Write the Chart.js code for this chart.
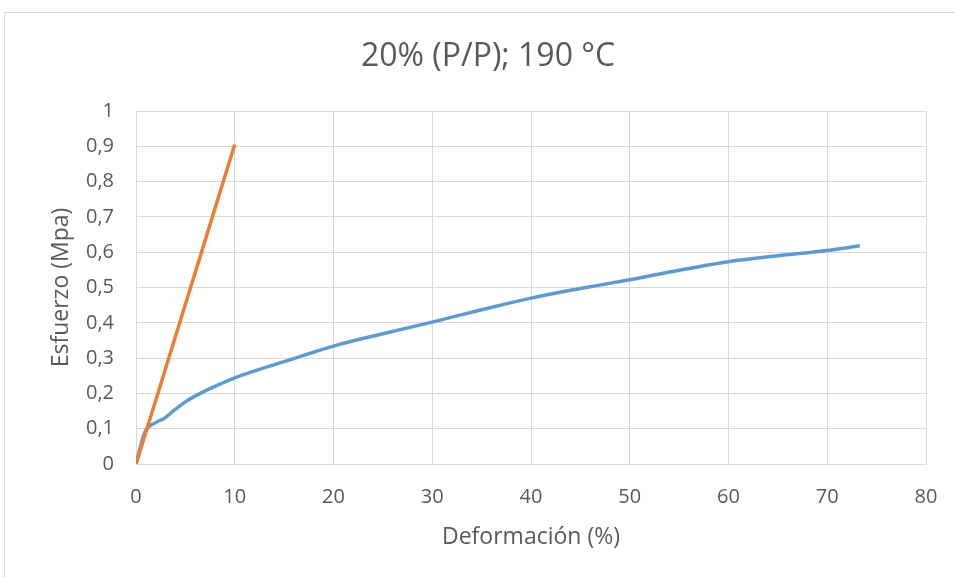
<!DOCTYPE html>
<html>
<head>
<meta charset="utf-8">
<script src="https://cdn.jsdelivr.net/npm/chart.js@4"></script>
<style>
  html, body { margin: 0; padding: 0; background: #fff; overflow: hidden; }
  #wrap { position: absolute; left: 0; top: 0; width: 955px; height: 577px; }
</style>
</head>
<body>
<div id="wrap"><canvas id="myChart" width="955" height="577"></canvas></div>
<script>
const titulo = "20% (P/P); 190 °C"
const deformacionAzul = [0, 0.9, 1.9, 2.9, 3.9, 5, 6.5, 8.5, 10, 15, 20, 25, 30, 35, 40, 45, 50, 55, 60, 65, 70, 73.3]
const esfuerzoAzul = [0, 0.09, 0.116, 0.13, 0.153, 0.176, 0.2, 0.226, 0.244, 0.29, 0.334, 0.369, 0.402, 0.437, 0.47, 0.497, 0.522, 0.549, 0.573, 0.59, 0.605, 0.618]
const deformacionNaranja = [0, 1, 10]
const esfuerzoNaranja = [0, 0.09, 0.905]
const ticksX = [0, 10, 20, 30, 40, 50, 60, 70, 80]
const ticksY = [0, 0.1, 0.2, 0.3, 0.4, 0.5, 0.6, 0.7, 0.8, 0.9, 1]

const toXY = (xs, ys) => xs.map((x, i) => ({ x: x, y: ys[i] }))

// marco gris y titulo centrado como en Excel
const fondo = {
    id: 'fondo',
    beforeDraw(chart) {
        const c = chart.ctx
        c.save()
        c.strokeStyle = '#d9d9d9'
        c.lineWidth = 1
        c.strokeRect(4.5, 12.5, 1000, 1000)
        c.fillStyle = '#595959'
        c.font = '32px "Open Sans"'
        c.textAlign = 'center'
        c.textBaseline = 'middle'
        c.fillText(titulo, 488, 57)
        c.restore()
    }
}

var ctx = document.getElementById('myChart')
var myChart = new Chart(ctx, {
    type: 'line',
    data: {
        datasets: [{
            label: 'Naranja',
            data: toXY(deformacionNaranja, esfuerzoNaranja),
            borderColor: '#ed7d31',
            borderWidth: 3.5,
            pointRadius: 0,
            tension: 0
        }, {
            label: 'Azul',
            data: toXY(deformacionAzul, esfuerzoAzul),
            borderColor: '#5b9bd5',
            borderWidth: 3.5,
            pointRadius: 0,
            cubicInterpolationMode: 'monotone'
        }]
    },
    options: {
        responsive: false,
        animation: false,
        layout: { padding: { left: 0, right: 29, top: 111, bottom: 0 } },
        plugins: { legend: { display: false }, tooltip: { enabled: false } },
        scales: {
            x: {
                type: 'linear',
                min: 0, max: 80,
                afterBuildTicks: s => { s.ticks = ticksX.map(v => ({ value: v })) },
                afterFit: s => { s.height = 113; s.paddingLeft = 0; s.paddingRight = 0 },
                grid: { color: '#d9d9d9', lineWidth: 1, drawTicks: false },
                border: { color: '#d9d9d9' },
                ticks: { color: '#595959', font: { family: 'Open Sans', size: 20 }, padding: 21 },
                title: { display: true, text: 'Deformación (%)', color: '#595959', font: { family: 'Open Sans', size: 23 }, padding: { bottom: 26 } }
            },
            y: {
                min: 0, max: 1,
                afterBuildTicks: s => { s.ticks = ticksY.map(v => ({ value: v })) },
                afterFit: s => { s.width = 136; s.paddingTop = 0; s.paddingBottom = 0 },
                grid: { color: '#d9d9d9', lineWidth: 1, drawTicks: false },
                border: { color: '#d9d9d9' },
                ticks: {
                    color: '#595959', font: { family: 'Open Sans', size: 20 }, padding: 22,
                    callback: v => String(Math.round(v * 10) / 10).replace('.', ',')
                },
                title: { display: true, text: 'Esfuerzo (Mpa)', color: '#595959', font: { family: 'Open Sans', size: 23 }, padding: { top: 48 } }
            }
        }
    },
    plugins: [fondo]
})
</script>
</body>
</html>
